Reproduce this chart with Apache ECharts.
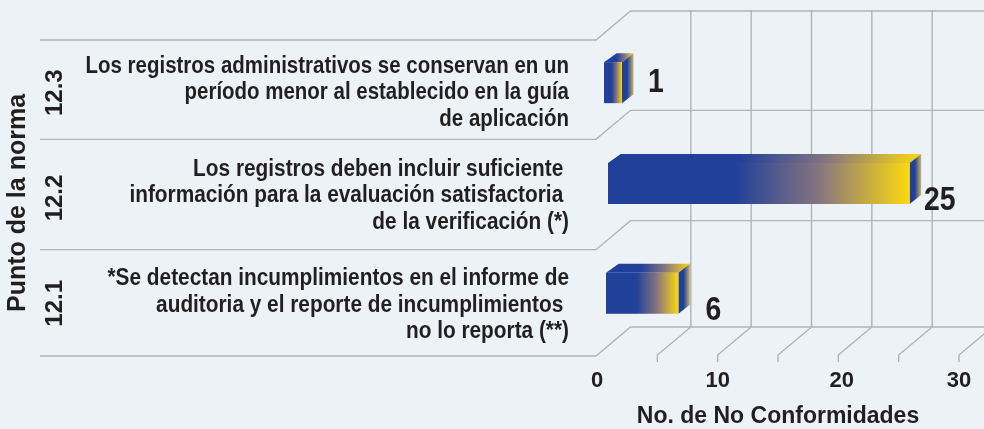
<!DOCTYPE html>
<html><head><meta charset="utf-8">
<style>html,body{margin:0;padding:0;background:#ecf2f6}#c{width:984px;height:429px}</style>
<script src="https://cdn.jsdelivr.net/npm/echarts@6/dist/echarts.min.js"></script>
</head><body><div id="c"></div>
<script>
const categories = ['12.3', '12.2', '12.1'];
const descriptions = [
  'Los registros administrativos se conservan en un\nperíodo menor al establecido en la guía\nde aplicación',
  'Los registros deben incluir suficiente \ninformación para la evaluación satisfactoria \nde la verificación (*)',
  '*Se detectan incumplimientos en el informe de\nauditoria y el reporte de incumplimientos \nno lo reporta (**)'
];
const values = [1, 25, 6];
const wallTicks = [5, 10, 15, 20, 25, 30];
const axisLabels = [0, 10, 20, 30];
const rowBoundaries = [0, 1, 2, 3];

const FONT = '"Liberation Sans",sans-serif';
const INK = '#231f20', LINE = '#b1b3b6', BLUE = '#21409a', GOLD = '#fbd90f';
const DX = 33.5, DY = -29;
const rowLineNudge = [0, -6, -1, 0];
const barStart = [7, 11, 9], barCentre = [-10, -14.5, -10], textCentre = [0, -2, 2], textScale = [.89, .905, .905];
const labelDx = [34, 30, 35], labelDy = [0.5, 17.5, 17.5];
const BAR_H = 41, MIN_W = 18;
const grad = (stops) => ({type:'linear',x:0,y:0,x2:1,y2:0,colorStops:stops});
const faceFill = grad([{offset:0,color:BLUE},{offset:.42,color:BLUE},{offset:.7,color:'#86757f'},{offset:1,color:GOLD}]);
const sideFill = grad([{offset:0,color:BLUE},{offset:.45,color:BLUE},{offset:1,color:'#c9b268'}]);
const lineStyle = {stroke:LINE, lineWidth:1.4, fill:null};

function wallItem(params, api) {
  const p = api.coord([api.value(0), 0]);
  const cs = params.coordSys, x = p[0], bottom = cs.y + cs.height, top = cs.y;
  return {type:'polyline', silent:true, style:lineStyle, shape:{points:[
    [x + DX, top + DY - 1], [x + DX, bottom + DY], [x, bottom - 1], [x, bottom + 6]
  ]}};
}
function rowItem(params, api) {
  const i = api.value(0), cs = params.coordSys;
  const y = cs.y + i * cs.height / categories.length + rowLineNudge[i];
  return {type:'polyline', silent:true, style:lineStyle, shape:{points:[
    [40, y], [cs.x - 1, y], [cs.x + DX, y + DY], [990, y + DY]
  ]}};
}
function barItem(params, api) {
  const i = params.dataIndex, v = api.value(0);
  const o = api.coord([0, i]), e = api.coord([v, i]);
  const x0 = o[0] + barStart[i], w = Math.max(e[0] - o[0], MIN_W), x1 = x0 + w;
  const cy = o[1] + barCentre[i], y0 = cy - BAR_H / 2, y1 = cy + BAR_H / 2;
  const sx = 11.5, sy = -9;
  return {type:'group', children:[
    {type:'polygon', shape:{points:[[x0,y0],[x1,y0],[x1+sx,y0+sy],[x0+12.7,y0+sy]]}, style:{fill:faceFill}},
    {type:'polygon', shape:{points:[[x1,y0],[x1+sx,y0+sy],[x1+sx,y1+sy],[x1,y1]]}, style:{fill:sideFill}},
    {type:'rect', shape:{x:x0,y:y0,width:w,height:BAR_H}, style:{fill:faceFill}},
    {type:'text', x:x1+labelDx[i], y:cy+labelDy[i], scaleX:.86, style:{text:String(v), x:0, y:0, align:'center', verticalAlign:'middle',
      font:'bold 33px '+FONT, fill:INK}}
  ]};
}
function descItem(params, api) {
  const i = params.dataIndex, o = api.coord([0, i]);
  return {type:'text', silent:true, x:569, y:o[1]+textCentre[i], scaleX:textScale[i], style:{text:descriptions[i], x:0, y:0, align:'right', verticalAlign:'middle',
    font:'bold 23px '+FONT, lineHeight:26.5, fill:INK}};
}
const chart = echarts.init(document.getElementById('c'));
chart.setOption({
  animation:false,
  backgroundColor:'#ecf2f6',
  grid:{left:597, top:40, width:362, height:316, outerBoundsMode:'none'},
  xAxis:{type:'value', min:0, max:30, interval:10,
    name:'No. de No Conformidades', nameLocation:'middle', nameGap:61,
    nameTextStyle:{fontFamily:FONT, fontWeight:'bold', fontSize:23, color:INK, verticalAlign:'middle'},
    axisLine:{show:false}, axisTick:{show:false}, splitLine:{show:false},
    axisLabel:{fontFamily:FONT, fontWeight:'bold', fontSize:22, color:INK, margin:14, showMinLabel:true, showMaxLabel:true,
      hideOverlap:false, customValues:axisLabels,
      formatter:(v)=> v===20 ? '{shift|20}' : String(v),
      rich:{shift:{padding:[0,0,0,7], fontFamily:FONT, fontWeight:'bold', fontSize:22, color:INK}}}},
  yAxis:{type:'category', inverse:true, data:categories,
    name:'Punto de la norma', nameLocation:'middle', nameGap:579, nameRotate:90,
    nameTextStyle:{fontFamily:FONT, fontWeight:'bold', fontSize:25, color:INK, verticalAlign:'middle', padding:[0,10,0,0]},
    axisLine:{show:false}, axisTick:{show:false}, splitLine:{show:false},
    axisLabel:{rotate:90, margin:530, fontFamily:FONT, fontWeight:'bold', fontSize:24, color:INK}},
  series:[
    {type:'custom', name:'wall', data:wallTicks.map(v=>[v]), renderItem:wallItem, silent:true, clip:false, z:1, encode:{x:0}},
    {type:'custom', name:'rows', data:rowBoundaries.map(v=>[v]), renderItem:rowItem, silent:true, clip:false, z:1, encode:{x:0}},
    {type:'custom', name:'No. de No Conformidades', data:values.map(v=>[v]), renderItem:barItem, clip:false, z:3, encode:{x:0}},
    {type:'custom', name:'desc', data:values.map(v=>[v]), renderItem:descItem, silent:true, clip:false, z:3, encode:{x:0}}
  ]
});
</script></body></html>
